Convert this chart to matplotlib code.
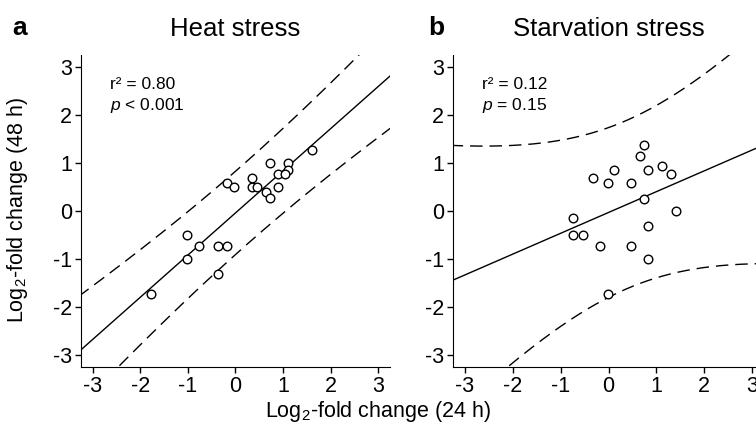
import numpy as np
import matplotlib
matplotlib.use('Agg')
import matplotlib.pyplot as plt

plt.rcParams['font.family'] = ['Liberation Sans', 'DejaVu Sans']
plt.rcParams['mathtext.fontset'] = 'custom'
plt.rcParams['mathtext.rm'] = 'Liberation Sans'
plt.rcParams['mathtext.it'] = 'Liberation Sans:italic'
plt.rcParams['axes.unicode_minus'] = False

# heat stress: log2 fold change at 24 h (x) and 48 h (y)
heat_x = [1.60, 0.73, 1.11, 1.11, 0.90, 1.04, 0.35, -0.18, -0.03, 0.34, 0.45,
          0.90, 0.64, 0.73, -1.03, -0.77, -0.36, -0.18, -1.03, -0.36, -1.77]
heat_y = [1.27, 1.00, 1.00, 0.85, 0.77, 0.77, 0.68, 0.59, 0.49, 0.49, 0.49,
          0.49, 0.39, 0.27, -0.50, -0.73, -0.73, -0.73, -0.99, -1.31, -1.72]

# starvation stress
starv_x = [0.74, 0.66, 0.12, 0.83, 1.12, 1.30, -0.33, -0.02, 0.47, 0.74,
           1.41, -0.75, 0.83, -0.75, -0.53, -0.17, 0.47, 0.83, -0.01]
starv_y = [1.38, 1.15, 0.85, 0.85, 0.93, 0.77, 0.68, 0.59, 0.59, 0.26,
           0.01, -0.14, -0.32, -0.51, -0.51, -0.72, -0.72, -0.99, -1.72]

titles = ['Heat stress', 'Starvation stress']
letters = ['a', 'b']
stat_r2 = ['r\u00b2 = 0.80', 'r\u00b2 = 0.12']
stat_p = ['$p$ < 0.001', '$p$ = 0.15']
ticks = [-3, -2, -1, 0, 1, 2, 3]

# two-sided 95% t quantiles by degrees of freedom
T975 = {17: 2.110, 19: 2.093}


def fit_band(x, y, xs):
    x = np.asarray(x)
    y = np.asarray(y)
    n = len(x)
    b, a = np.polyfit(x, y, 1)
    resid = y - (a + b * x)
    s = np.sqrt(np.sum(resid ** 2) / (n - 2))
    sxx = np.sum((x - x.mean()) ** 2)
    yhat = a + b * xs
    # 95% prediction interval
    half = T975[n - 2] * s * np.sqrt(1 + 1.0 / n + (xs - x.mean()) ** 2 / sxx)
    return yhat, yhat - half, yhat + half


fig = plt.figure(figsize=(7.56, 4.29), dpi=100)
W, H = 756.0, 429.0
ax_a = fig.add_axes([81 / W, 62 / H, 309 / W, 312 / H])
ax_b = fig.add_axes([453 / W, 62 / H, 311 / W, 312 / H])

xs = np.linspace(-3.3, 3.3, 300)
data = [(heat_x, heat_y), (starv_x, starv_y)]

for i, ax in enumerate([ax_a, ax_b]):
    x, y = data[i]
    yhat, lo, hi = fit_band(x, y, xs)
    ax.plot(xs, yhat, color='black', lw=1.0)
    ax.plot(xs, lo, color='black', lw=1.0, dashes=(9, 5))
    ax.plot(xs, hi, color='black', lw=1.0, dashes=(9, 5))
    ax.plot(x, y, 'o', ms=6.2, mfc='white', mec='black', mew=1.0)

    ax.set_xlim(-3.25, 3.25)
    ax.set_ylim(-3.25, 3.25)
    ax.set_xticks(ticks)
    ax.set_yticks(ticks)
    ax.spines['top'].set_visible(False)
    ax.spines['right'].set_visible(False)
    ax.tick_params(labelsize=15.5, length=4, width=1, pad=2.5)
    ax.set_title(titles[i], fontsize=18.5, pad=14)

    ax.text(-2.64, 2.54, stat_r2[i], fontsize=12.5)
    ax.text(-2.64, 2.10, stat_p[i], fontsize=12.5)

fig.text(12 / W, 1 - 35 / H, letters[0], fontsize=19, fontweight='bold')
fig.text(428 / W, 1 - 35 / H, letters[1], fontsize=19, fontweight='bold')

fig.text(18 / W, 219 / H, 'Log$_2$-fold change (48 h)', rotation=90,
         ha='center', va='center', fontsize=15.5)
fig.text(378 / W, 18 / H, 'Log$_2$-fold change (24 h)',
         ha='center', va='center', fontsize=15.5)

fig.savefig('out.png', dpi=100)
